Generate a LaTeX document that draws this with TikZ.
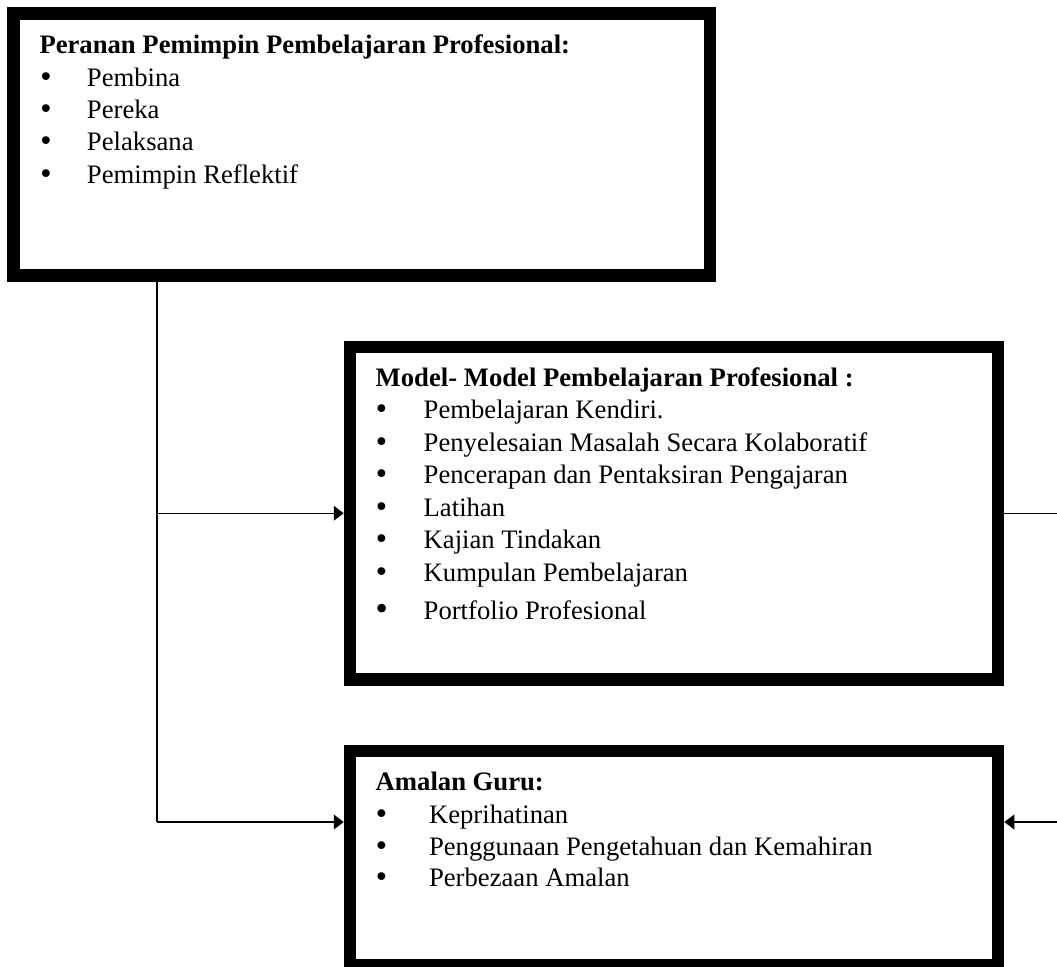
\documentclass[tikz,border=0pt]{standalone}
\usepackage{fontspec}
\setmainfont{Liberation Serif}
\newfontfamily\bulletfont{DejaVu Sans}
\usetikzlibrary{arrows.meta}
% bullet item: [#1 bullet size] #2 indent width, #3 text
\newcommand{\blt}[3][20]{\makebox[#2][l]{\hspace{-1.5pt}{\bulletfont\fontsize{#1}{#1}\selectfont •}}#3}
\begin{document}
\begin{tikzpicture}[x=0.75pt,y=-0.75pt,
  box/.style={draw=black,line width=12.5*0.75pt,outer sep=6.25*0.75pt,inner sep=0pt,rectangle},
  txt/.style={anchor=base west,inner sep=0pt,outer sep=0pt,font=\fontsize{20}{24}\selectfont},
  ttl/.style={txt,font=\fontsize{20}{24}\selectfont\bfseries},
  conn/.style={line width=1.1pt},
  arr/.style={conn,-{Triangle[length=7.5pt,width=11pt]}}]
\useasboundingbox (0,0) rectangle (1057,967);
% boxes
\node[box,minimum width=696.5*0.75pt,minimum height=262*0.75pt] (b1) at (361.75,144.5) {};
\node[box,minimum width=648*0.75pt,minimum height=332.5*0.75pt] (b2) at (674,513.25) {};
\node[box,minimum width=648*0.75pt,minimum height=214*0.75pt] (b3) at (674,858) {};
% box 1 text
\node[ttl] (b1t) at (39.5,53.3) {Peranan Pemimpin Pembelajaran Profesional:};
\node[txt] (b1i1) at (40,86) {\blt{35.25pt}{Pembina}};
\node[txt] (b1i2) at (40,118.3) {\blt{35.25pt}{Pereka}};
\node[txt] (b1i3) at (40,150.7) {\blt{35.25pt}{Pelaksana}};
\node[txt] (b1i4) at (40,183.3) {\blt{35.25pt}{Pemimpin Reflektif}};
% box 2 text
\node[ttl] (b2t) at (375.7,386.7) {Model- Model Pembelajaran Profesional :};
\node[txt] (b2i1) at (375.7,418.3) {\blt{36pt}{Pembelajaran Kendiri.}};
\node[txt] (b2i2) at (375.7,451) {\blt{36pt}{Penyelesaian Masalah Secara Kolaboratif}};
\node[txt] (b2i3) at (375.7,483.3) {\blt{36pt}{Pencerapan dan Pentaksiran Pengajaran}};
\node[txt] (b2i4) at (375.7,516) {\blt{36pt}{Latihan}};
\node[txt] (b2i5) at (375.7,548.3) {\blt{36pt}{Kajian Tindakan}};
\node[txt] (b2i6) at (375.7,581.7) {\blt{36pt}{Kumpulan Pembelajaran}};
\node[txt] (b2i7) at (375.7,619.3) {\blt[22]{36pt}{Portfolio Profesional}};
% box 3 text
\node[ttl] (b3t) at (375.7,790) {Amalan Guru:};
\node[txt] (b3i1) at (375.7,823.3) {\blt{40pt}{Keprihatinan}};
\node[txt] (b3i2) at (375.7,855) {\blt{40pt}{Penggunaan Pengetahuan dan Kemahiran}};
\node[txt] (b3i3) at (375.7,886.7) {\blt{40pt}{Perbezaan Amalan}};
% connectors
\coordinate (j1) at (157,513.25);
\coordinate (j2) at (157,822);
\coordinate (r1) at (1057,513.25);
\coordinate (r2) at (1057,822);
\draw[conn] (b1.south -| j1) -- (j2);
\draw[arr] (j1) -- (b2.west);
\draw[arr] (j2) -- (b3.west |- j2);
\draw[conn] (b2.east) -- (r1);
\draw[arr] (r2) -- (b3.east |- r2);
\end{tikzpicture}
\end{document}
